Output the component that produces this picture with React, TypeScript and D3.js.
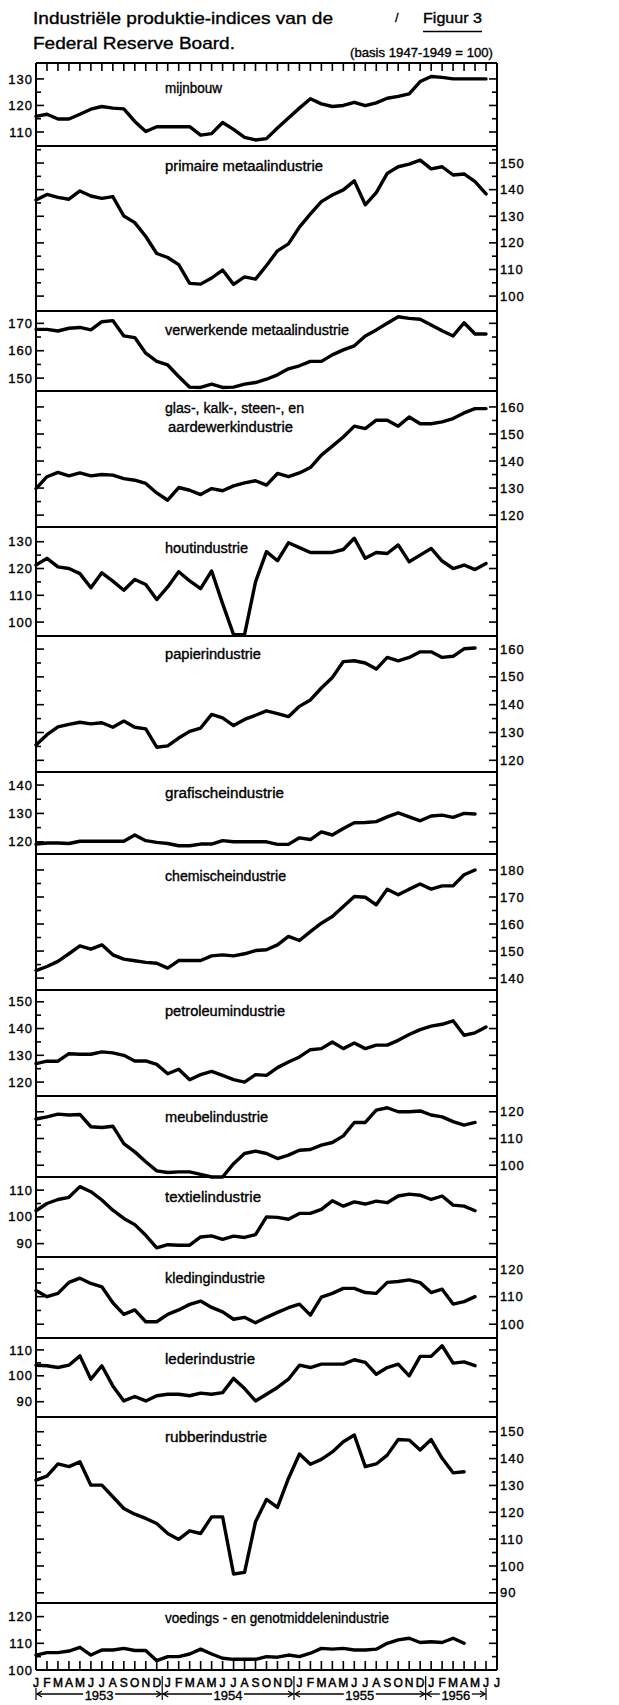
import * as d3 from "d3";

// month letters along the bottom, Jan 1953 .. Jul 1956
const months = [
  "J", "F", "M", "A", "M", "J", "J", "A", "S", "O", "N", "D",
  "J", "F", "M", "A", "M", "J", "J", "A", "S", "O", "N", "D",
  "J", "F", "M", "A", "M", "J", "J", "A", "S", "O", "N", "D",
  "J", "F", "M", "A", "M", "J", "J",
];
const years = ["1953", "1954", "1955", "1956"];

const mijnbouw = [115.9, 116.7, 114.9, 114.9, 116.7, 118.6, 119.6, 119, 118.7, 114, 110.2, 112, 112, 112, 112, 108.8, 109.4, 113.6, 111, 108, 107, 107.5, 111.5, 115.3, 119, 122.5, 120.6, 119.6, 120, 121.2, 119.9, 121, 122.7, 123.4, 124.4, 129, 130.9, 130.6, 130, 130, 130, 130];
const primaire = [136.1, 138.2, 137.1, 136.4, 139.5, 137.6, 136.7, 137.4, 130.1, 127.6, 122.4, 116, 114.5, 111.8, 104.8, 104.5, 106.8, 109.8, 104.4, 107.2, 106.4, 111.5, 117, 119.6, 125.9, 130.9, 135.5, 138, 139.9, 143.3, 134.3, 138.9, 146.1, 148.6, 149.6, 151.1, 147.8, 148.6, 145.5, 145.9, 143, 138.4];
const verwerkende = [167.8, 167.8, 167.2, 168.2, 168.5, 167.6, 170.6, 171, 165.4, 164.8, 159.1, 156.1, 154.8, 150.6, 146.7, 146.6, 147.8, 146.6, 146.7, 147.8, 148.4, 149.6, 151.2, 153.4, 154.5, 156.1, 156.1, 158.5, 160.3, 161.8, 165.4, 167.6, 170, 172.4, 171.8, 171.5, 169.4, 167.3, 165.4, 170.2, 166.1, 166.1];
const glas = [129.8, 134.2, 135.8, 134.5, 135.6, 134.5, 135, 134.8, 133.5, 132.9, 131.7, 128.2, 125.5, 130.2, 129.2, 127.6, 129.8, 129, 130.8, 131.9, 132.7, 131.1, 135.4, 134.2, 135.6, 137.6, 142.2, 145.5, 148.9, 152.9, 152, 155.1, 155.1, 152.9, 156.3, 153.8, 153.8, 154.5, 155.7, 157.8, 159.4, 159.4];
const hout = [121.3, 123.8, 120.6, 120, 118.1, 112.8, 118.4, 115.3, 111.9, 115.9, 114, 108.4, 113.1, 118.8, 115.4, 112.5, 119.1, 106.9, 95.3, 95.3, 115, 126.3, 122.9, 129.6, 127.8, 126, 126, 126, 127.1, 131.3, 123.8, 126, 125.6, 128.8, 122.5, 125, 127.5, 122.8, 120, 121.3, 119.6, 121.9];
const papier = [125.5, 129.2, 132, 132.9, 133.7, 133.1, 133.5, 131.9, 134.1, 131.9, 131.3, 124.7, 125.2, 128, 130.4, 131.6, 136.5, 135.3, 132.5, 134.7, 136.2, 137.8, 136.8, 135.7, 139.4, 141.7, 146, 149.8, 155.5, 155.8, 155, 152.8, 157, 155.8, 157, 159, 159, 157, 157.4, 160.1, 160.4];
const grafische = [119.2, 119.6, 119.6, 119.4, 120.2, 120.2, 120.2, 120.2, 120.2, 122.4, 120.4, 119.8, 119.4, 118.6, 118.6, 119.2, 119.2, 120.4, 120, 120, 120, 120, 119.1, 119.1, 121.4, 120.8, 123.5, 122.4, 124.7, 126.7, 126.8, 127.1, 128.8, 130.2, 128.8, 127.4, 129.1, 129.4, 128.6, 130, 129.8];
const chemische = [142.8, 144.3, 146.2, 149, 151.9, 150.7, 152.3, 148.6, 147, 146.4, 145.8, 145.5, 143.7, 146.5, 146.5, 146.5, 148.2, 148.6, 148.2, 149, 150.2, 150.5, 152.3, 155.4, 153.9, 157.2, 160.3, 162.8, 166.5, 170.2, 169.9, 167.1, 172.9, 170.8, 172.9, 174.8, 172.9, 174.1, 174.1, 178.2, 180];
const petroleum = [126.9, 127.8, 127.8, 130.6, 130.4, 130.4, 131.3, 130.9, 130, 127.9, 127.9, 126.6, 123.1, 124.8, 120.9, 122.8, 124, 122.5, 120.9, 120, 122.8, 122.5, 125.4, 127.5, 129.4, 132.1, 132.5, 135, 132.5, 134.6, 132.5, 133.8, 133.8, 135.6, 137.8, 139.6, 140.9, 141.6, 142.9, 137.5, 138.4, 140.6];
const meubel = [117.3, 118.1, 119.1, 118.8, 119, 114.4, 114.1, 114.6, 108.1, 105, 101.3, 97.9, 97.3, 97.5, 97.5, 96.6, 95.6, 95.6, 100.6, 104.4, 105.3, 104.4, 102.5, 103.8, 105.6, 105.9, 107.5, 108.5, 111, 116, 116, 120.6, 121.5, 120, 120, 120.3, 118.8, 118.1, 116.3, 115, 116];
const textiel = [102.3, 105, 106.5, 107.3, 111.3, 109.4, 106.3, 102.5, 99.4, 97.1, 93.1, 88.4, 89.6, 89.4, 89.4, 92.5, 92.9, 91.6, 92.8, 92.3, 93.4, 100, 99.8, 99.1, 101.3, 101.3, 102.8, 106, 104, 105.6, 104.8, 105.9, 105.3, 107.8, 108.5, 108.1, 106.5, 107.8, 104.4, 104, 102.3];
const kleding = [112.2, 110, 111.2, 115.2, 116.7, 114.8, 113.6, 107.8, 103.6, 105.2, 100.9, 100.9, 103.6, 105.2, 107.2, 108.4, 106.1, 104.5, 101.8, 102.5, 100.5, 102.5, 104.3, 106, 107.3, 103.3, 109.8, 111.2, 113, 113, 111.5, 111.2, 115.2, 115.5, 116.1, 115.1, 111.5, 112.7, 107.3, 108.2, 110];
const leder = [104.1, 103.9, 103.2, 104.1, 107.7, 98.7, 103.9, 96.1, 90.3, 92, 90.3, 92.3, 92.9, 92.9, 92.3, 93.3, 92.9, 93.5, 99, 95.1, 90.3, 92.9, 95.5, 98.7, 104.1, 103.2, 104.5, 104.5, 104.5, 106.2, 105.2, 100.6, 103.2, 104.5, 100, 107.5, 107.5, 111.6, 104.9, 105.4, 103.9];
const rubber = [132, 133.5, 138, 137, 138.8, 130.1, 130.1, 125.8, 121.4, 119.3, 117.7, 115.8, 112.1, 109.9, 113.1, 112.1, 118.3, 118.3, 97, 97.6, 116.5, 124.8, 121.8, 132.6, 141.7, 137.9, 139.7, 142.5, 146.3, 148.8, 137, 138, 141.3, 147.1, 146.9, 143.2, 147.1, 140.1, 134.7, 135.1];
const voedings = [105.6, 106.5, 106.5, 107.1, 108.5, 105.6, 107.5, 107.5, 108.1, 107.3, 107.3, 103.5, 105, 105, 106, 107.8, 106, 104.4, 104, 104, 104, 105, 104.8, 105.6, 105, 106.3, 108.1, 107.8, 108.1, 107.5, 107.5, 107.8, 110, 111.3, 111.9, 110.3, 110.6, 110.3, 111.9, 110];

const names = [
  ["mijnbouw"],
  ["primaire  metaalindustrie"],
  ["verwerkende  metaalindustrie"],
  ["glas-, kalk-, steen-, en", "aardewerkindustrie"],
  ["houtindustrie"],
  ["papierindustrie"],
  ["grafischeindustrie"],
  ["chemischeindustrie"],
  ["petroleumindustrie"],
  ["meubelindustrie"],
  ["textielindustrie"],
  ["kledingindustrie"],
  ["lederindustrie"],
  ["rubberindustrie"],
  ["voedings - en genotmiddelenindustrie"],
];
const series = [mijnbouw, primaire, verwerkende, glas, hout, papier, grafische, chemische, petroleum, meubel, textiel, kleding, leder, rubber, voedings];
const tickLabels = [
  [110, 120, 130],
  [100, 110, 120, 130, 140, 150],
  [150, 160, 170],
  [120, 130, 140, 150, 160],
  [100, 110, 120, 130],
  [120, 130, 140, 150, 160],
  [120, 130, 140],
  [140, 150, 160, 170, 180],
  [120, 130, 140, 150],
  [100, 110, 120],
  [90, 100, 110],
  [100, 110, 120],
  [90, 100, 110],
  [90, 100, 110, 120, 130, 140, 150],
  [100, 110, 120],
];

// layout of the stacked panels (pixels + visible value range)
const layout = [
  { top: 63, bottom: 145, lo: 105.1, hi: 136, side: "left", ty: [93], tw: [57] },
  { top: 146, bottom: 311, lo: 94.4, hi: 156.4, side: "right", ty: [171], tw: [158] },
  { top: 311, bottom: 391, lo: 145.3, hi: 174.5, side: "left", ty: [335], tw: [184] },
  { top: 391, bottom: 527, lo: 115.6, hi: 165.9, side: "right", ty: [413, 432], tw: [139, 125] },
  { top: 527, bottom: 636, lo: 94.8, hi: 135.5, side: "left", ty: [553], tw: [83] },
  { top: 636, bottom: 772, lo: 115.8, hi: 164.7, side: "right", ty: [659], tw: [96] },
  { top: 772, bottom: 854, lo: 115.7, hi: 144.6, side: "left", ty: [798], tw: [119] },
  { top: 854, bottom: 990, lo: 135.6, hi: 185.9, side: "right", ty: [881], tw: [121] },
  { top: 990, bottom: 1096, lo: 114.8, hi: 154.4, side: "left", ty: [1016], tw: [120] },
  { top: 1096, bottom: 1177, lo: 95.6, hi: 125.9, side: "right", ty: [1122], tw: [103] },
  { top: 1177, bottom: 1257, lo: 85, hi: 114.9, side: "left", ty: [1202], tw: [96] },
  { top: 1257, bottom: 1338, lo: 95, hi: 124.4, side: "right", ty: [1283], tw: [100] },
  { top: 1338, bottom: 1417, lo: 84.1, hi: 114.6, side: "left", ty: [1364], tw: [90] },
  { top: 1417, bottom: 1603, lo: 86.2, hi: 155.5, side: "right", ty: [1442], tw: [102] },
  { top: 1603, bottom: 1670, lo: 100, hi: 125.1, side: "left", ty: [1623], tw: [224] },
];

const left = 36;
const right = 497;
const x = d3.scaleLinear().domain([0, 42]).range([left, right]);
const font = "'Liberation Sans', Arial, sans-serif";
// pen lettering is a bit heavier than the regular face
const ink = { fill: "#000", stroke: "#000", strokeWidth: 0.35 };

function Panel({ k }: { k: number }) {
  const L = layout[k];
  const y = d3.scaleLinear().domain([L.lo, L.hi]).range([L.bottom, L.top]);
  const line = d3
    .line<number>()
    .x((_, i) => x(i))
    .y((d) => y(d));
  const ticks = d3
    .range(Math.ceil(L.lo / 5) * 5, L.hi, 5)
    .filter((v) => y(v) > L.top + 3 && y(v) < L.bottom - 3);

  return (
    <g>
      <line x1={left} x2={right} y1={L.top} y2={L.top} stroke="#000" strokeWidth={2} />
      {ticks.map((v) => {
        const len = v % 10 === 0 ? 8 : 5;
        return (
          <g key={v}>
            <line x1={left} x2={left + len} y1={y(v)} y2={y(v)} stroke="#000" strokeWidth={1.6} />
            <line x1={right - len} x2={right} y1={y(v)} y2={y(v)} stroke="#000" strokeWidth={1.6} />
          </g>
        );
      })}
      {tickLabels[k].map((v) => (
        <text
          key={v}
          x={L.side === "left" ? left - 3 : right + 3}
          y={y(v) + 4.6}
          textAnchor={L.side === "left" ? "end" : "start"}
          fontSize={13}
          letterSpacing={1}
          {...ink}
        >
          {v}
        </text>
      ))}
      {names[k].map((t, j) => (
        <text
          key={t}
          x={j === 0 ? 165 : 168}
          y={L.ty[j]}
          fontSize={14}
          textLength={L.tw[j]}
          lengthAdjust="spacingAndGlyphs"
          {...ink}
        >
          {t}
        </text>
      ))}
      <path
        d={line(series[k]) ?? ""}
        fill="none"
        stroke="#000"
        strokeWidth={3.4}
        strokeLinejoin="round"
        strokeLinecap="round"
      />
    </g>
  );
}

export default function App() {
  const top = layout[0].top;
  const bottom = layout[layout.length - 1].bottom;
  const bounds = [0, 11.5, 23.5, 35.5, 41];
  const yearY = 1694;

  return (
    <svg
      width={619}
      height={1705}
      viewBox="0 0 619 1705"
      fontFamily={font}
      style={{ position: "absolute", left: 0, top: 0, background: "#fff" }}
    >
      <rect width={619} height={1705} fill="#fff" />
      <text x={33} y={24} fontSize={17} textLength={300} lengthAdjust="spacingAndGlyphs" {...ink}>
        Industriële produktie-indices van de
      </text>
      <text x={33} y={49} fontSize={17} textLength={202} lengthAdjust="spacingAndGlyphs" {...ink}>
        Federal Reserve Board.
      </text>
      <text x={395} y={22} fontSize={13} {...ink}>/</text>
      <text x={423} y={23} fontSize={14} textLength={59} lengthAdjust="spacingAndGlyphs" {...ink}>
        Figuur 3
      </text>
      <line x1={423} x2={482} y1={31.5} y2={31.5} stroke="#000" strokeWidth={1.5} />
      <text x={350} y={57} fontSize={13} textLength={143} lengthAdjust="spacingAndGlyphs" {...ink}>
        (basis 1947-1949 = 100)
      </text>

      {layout.map((_, k) => (
        <Panel key={k} k={k} />
      ))}

      {/* outer frame */}
      <line x1={left} x2={left} y1={top} y2={bottom} stroke="#000" strokeWidth={2} />
      <line x1={right} x2={right} y1={top} y2={bottom} stroke="#000" strokeWidth={2} />
      <line x1={left} x2={right} y1={bottom} y2={bottom} stroke="#000" strokeWidth={2} />

      {/* month ticks on top and bottom */}
      {d3.range(1, 42).map((i) => (
        <g key={i}>
          <line x1={x(i)} x2={x(i)} y1={top} y2={top + 8} stroke="#000" strokeWidth={1.6} />
          <line x1={x(i)} x2={x(i)} y1={bottom} y2={bottom - 9} stroke="#000" strokeWidth={1.6} />
        </g>
      ))}

      {months.map((m, i) => (
        <text key={i} x={x(i)} y={1687} fontSize={12} textAnchor="middle" {...ink} strokeWidth={0.5}>
          {m}
        </text>
      ))}

      {/* year spans */}
      {years.map((yr, j) => {
        const a = x(bounds[j]);
        const b = x(bounds[j + 1]);
        const c = (a + b) / 2;
        const g = 16;
        return (
          <g key={yr}>
            <g stroke="#000" strokeWidth={1.3} fill="none">
              <line x1={a + 1} x2={c - g} y1={yearY} y2={yearY} />
              <line x1={c + g} x2={b - 1} y1={yearY} y2={yearY} />
              <polyline points={`${a + 6},${yearY - 3} ${a + 1},${yearY} ${a + 6},${yearY + 3}`} />
              <polyline points={`${b - 6},${yearY - 3} ${b - 1},${yearY} ${b - 6},${yearY + 3}`} />
            </g>
            <text x={c} y={1699.5} fontSize={13} textAnchor="middle" {...ink}>
              {yr}
            </text>
          </g>
        );
      })}
      {bounds.map((bd, j) => (
        <line
          key={j}
          x1={x(bd)}
          x2={x(bd)}
          y1={j === 0 || j === bounds.length - 1 ? 1688 : 1676}
          y2={1700}
          stroke="#000"
          strokeWidth={1.2}
        />
      ))}
    </svg>
  );
}
